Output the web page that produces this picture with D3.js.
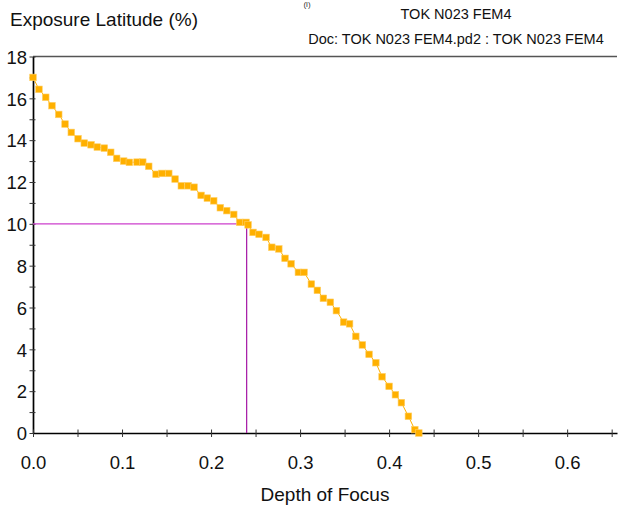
<!DOCTYPE html>
<html>
<head>
<meta charset="utf-8">
<script src="https://cdn.jsdelivr.net/npm/d3@7"></script>
<style>
  body { margin: 0; background: #fff; }
  svg { display: block; font-family: "Liberation Sans", Arial, sans-serif; }
  .axis text { font-size: 18.5px; fill: #111; }
</style>
</head>
<body>
<svg id="chart" width="619" height="510"></svg>
<script>
// 1: DATA
const dof = [0.000, 0.0067, 0.0143, 0.0213, 0.0289, 0.0360, 0.0430, 0.0506, 0.0576, 0.0652,
             0.0722, 0.0801, 0.0873, 0.0940, 0.1019, 0.1082, 0.1169, 0.1233, 0.1300, 0.1382,
             0.1449, 0.1525, 0.1596, 0.1666, 0.1742, 0.1809, 0.1888, 0.1958, 0.2030, 0.2104,
             0.2176, 0.2255, 0.2322, 0.2393, 0.2416, 0.2472, 0.2539, 0.2618, 0.2682, 0.2761,
             0.2831, 0.2899, 0.2981, 0.3045, 0.3127, 0.3194, 0.3262, 0.3340, 0.3408, 0.3489,
             0.3556, 0.3626, 0.3700, 0.3775, 0.3851, 0.3921, 0.4000, 0.4071, 0.4138, 0.4217,
             0.4289, 0.4334];
const latitude = [17.00, 16.43, 16.05, 15.65, 15.23, 14.77, 14.37, 14.07, 13.86, 13.78,
                  13.67, 13.62, 13.42, 13.13, 13.00, 12.94, 12.95, 12.95, 12.75, 12.37,
                  12.41, 12.41, 12.14, 11.82, 11.82, 11.75, 11.36, 11.23, 11.10, 10.77,
                  10.63, 10.45, 10.07, 10.07, 9.95, 9.59, 9.50, 9.35, 8.88, 8.80,
                  8.35, 8.09, 7.68, 7.68, 7.12, 6.82, 6.44, 6.25, 5.85, 5.30,
                  5.22, 4.62, 4.21, 3.76, 3.36, 2.69, 2.23, 1.83, 1.45, 0.80,
                  0.16, 0.00];
const marker = { dof: 0.24, latitude: 10 };
const yTicks = d3.range(0, 19, 1);
const xTicks = d3.range(0, 0.651, 0.05);
const titleText = "TOK N023 FEM4";
const docText = "Doc: TOK N023 FEM4.pd2 : TOK N023 FEM4";

const points = dof.map((d, i) => ({ x: d, y: latitude[i] }));

// 2: SCALES
const svg = d3.select("#chart");
const x = d3.scaleLinear().domain([0, 0.656]).range([33, 617]);
const y = d3.scaleLinear().domain([0, 18]).range([433, 56.5]);

// 3: FRAME (top line)
svg.append("line")
    .attr("x1", x(0)).attr("x2", x.range()[1])
    .attr("y1", y(18)).attr("y2", y(18))
    .attr("stroke", "#555").attr("stroke-width", 1.5);

// 4: AXES
const yAxis = svg.append("g")
    .attr("class", "axis")
    .attr("transform", `translate(${x(0)},0)`)
    .call(d3.axisLeft(y)
        .tickValues(yTicks)
        .tickFormat(d => d % 2 === 0 ? d : "")
        .tickSizeInner(3.5)
        .tickSizeOuter(0)
        .tickPadding(2.5));
yAxis.select(".domain").attr("stroke", "#000").attr("stroke-width", 1.7);
yAxis.selectAll(".tick line").attr("x1", 2.5).attr("stroke", "#333");
yAxis.selectAll(".tick text").attr("dy", "0.36em");

const xAxis = svg.append("g")
    .attr("class", "axis")
    .attr("transform", `translate(0,${y(0)})`)
    .call(d3.axisBottom(x)
        .tickValues(xTicks)
        .tickFormat((d, i) => i % 2 === 0 ? d3.format(".1f")(d) : "")
        .tickSizeInner(4)
        .tickSizeOuter(0)
        .tickPadding(19));
xAxis.select(".domain").attr("stroke", "#000").attr("stroke-width", 1.7);
xAxis.selectAll(".tick line").attr("y1", -3.5).attr("stroke", "#333");

// 5: MARKER LINES (magenta)
svg.append("line")
    .attr("x1", x(0)).attr("x2", x(marker.dof))
    .attr("y1", y(marker.latitude)).attr("y2", y(marker.latitude))
    .attr("stroke", "#cc3fcc").attr("stroke-width", 1.2);
svg.append("line")
    .attr("x1", x(marker.dof)).attr("x2", x(marker.dof))
    .attr("y1", y(marker.latitude)).attr("y2", y(0))
    .attr("stroke", "#a516a5").attr("stroke-width", 1.2);

// 6: CURVE
const line = d3.line().x(d => x(d.x)).y(d => y(d.y));
svg.append("path")
    .datum(points)
    .attr("fill", "none")
    .attr("stroke", "#ffb000")
    .attr("stroke-width", 1)
    .attr("d", line);

const s = 6.6;
svg.append("g").selectAll("rect")
    .data(points)
    .join("rect")
    .attr("x", d => x(d.x) - s / 2)
    .attr("y", d => y(d.y) - s / 2)
    .attr("width", s).attr("height", s)
    .attr("fill", "#ffb000")
    .attr("stroke", "#ffcf66")
    .attr("stroke-width", 0.6);

// 7: LABELS
svg.append("text")
    .attr("x", 307).attr("y", 7)
    .attr("text-anchor", "middle")
    .attr("font-size", 8)
    .attr("fill", "#333")
    .text("(l)");

svg.append("text")
    .attr("x", 10).attr("y", 26)
    .attr("font-size", 19)
    .attr("fill", "#111")
    .text("Exposure Latitude (%)");

svg.append("text")
    .attr("x", 456).attr("y", 19)
    .attr("text-anchor", "middle")
    .attr("font-size", 14.5)
    .attr("fill", "#111")
    .text(titleText);

svg.append("text")
    .attr("x", 456).attr("y", 44)
    .attr("text-anchor", "middle")
    .attr("font-size", 14.5)
    .attr("fill", "#111")
    .text(docText);

svg.append("text")
    .attr("x", (x(0) + x.range()[1]) / 2).attr("y", 501)
    .attr("text-anchor", "middle")
    .attr("font-size", 19)
    .attr("fill", "#111")
    .text("Depth of Focus");
</script>
</body>
</html>
